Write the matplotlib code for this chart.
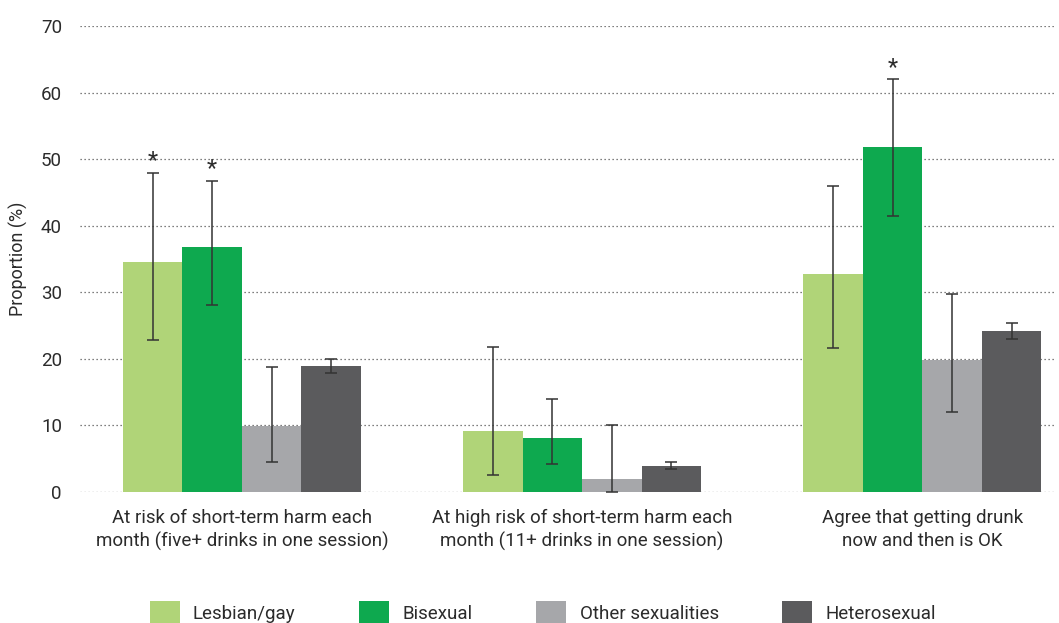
import numpy as np
import matplotlib
matplotlib.use("Agg")
import matplotlib.pyplot as plt
from matplotlib.patches import Patch

plt.rcParams["font.family"] = ["Roboto", "DejaVu Sans"]

categories = [
    "At risk of short-term harm each\nmonth (five+ drinks in one session)",
    "At high risk of short-term harm each\nmonth (11+ drinks in one session)",
    "Agree that getting drunk\nnow and then is OK",
]
groups = ["Lesbian/gay", "Bisexual", "Other sexualities", "Heterosexual"]
colors = ["#b0d478", "#0ea94f", "#a6a7aa", "#5b5b5d"]

# proportion (%) per group, one value per category
lesbian_gay = [34.5, 9.2, 32.7]
bisexual = [36.8, 8.1, 51.8]
other = [9.9, 1.95, 19.9]
hetero = [18.9, 3.9, 24.2]

# 95% confidence limits
lesbian_gay_lo = [22.8, 2.5, 21.6]
lesbian_gay_hi = [47.9, 21.8, 45.9]
bisexual_lo = [28.1, 4.2, 41.4]
bisexual_hi = [46.7, 14.0, 62.0]
other_lo = [4.5, 0.0, 12.0]
other_hi = [18.8, 10.0, 29.8]
hetero_lo = [17.9, 3.5, 23.0]
hetero_hi = [20.0, 4.5, 25.4]

# significant difference markers (group index, category index)
significant = [(0, 0), (1, 0), (1, 2)]

values = [lesbian_gay, bisexual, other, hetero]
lows = [lesbian_gay_lo, bisexual_lo, other_lo, hetero_lo]
highs = [lesbian_gay_hi, bisexual_hi, other_hi, hetero_hi]

text_color = "#2b2b2b"

fig = plt.figure(figsize=(10.59, 6.23), dpi=100)
ax = fig.add_axes([80 / 1059, 131 / 623, 975 / 1059, 466 / 623])

x = np.arange(len(categories))
width = 0.175
offsets = (np.arange(len(groups)) - 1.5) * width

for i, (vals, lo, hi) in enumerate(zip(values, lows, highs)):
    vals = np.array(vals)
    yerr = np.vstack([vals - np.array(lo), np.array(hi) - vals])
    ax.bar(x + offsets[i], vals, width, color=colors[i], zorder=2)
    ax.errorbar(x + offsets[i], vals, yerr=yerr, fmt="none", ecolor="#333333",
                elinewidth=1.1, capsize=4.5, capthick=1.1, zorder=3)

for gi, ci in significant:
    ax.text(x[ci] + offsets[gi], highs[gi][ci] + 0.1, "*", ha="center", va="bottom",
            fontsize=17, color=text_color)

ax.set_ylim(0, 70)
ax.set_xlim(-0.476, 2.39)
ax.set_yticks(np.arange(0, 71, 10))
ax.yaxis.grid(True, linestyle=(0, (1, 2.2)), color="#555555", linewidth=0.9, zorder=0)
ax.set_axisbelow(True)
for s in ax.spines.values():
    s.set_visible(False)
ax.tick_params(axis="both", length=0, labelsize=13.5, colors=text_color)
ax.tick_params(axis="y", pad=13)
ax.tick_params(axis="x", pad=12)
ax.set_xticks(x)
ax.set_xticklabels(categories, fontsize=13.5, linespacing=1.35)
ax.set_ylabel("Proportion (%)", fontsize=13, color=text_color, labelpad=9)

handles = [Patch(facecolor=c, label=g) for c, g in zip(colors, groups)]
fig.legend(handles=handles, loc="lower left", bbox_to_anchor=(133 / 1059, -0.03),
           ncol=4, frameon=False, fontsize=13.5, handlelength=1.6, handleheight=1.6,
           handletextpad=0.7, columnspacing=3.4, labelcolor=text_color)

fig.savefig("out.png", dpi=100)
